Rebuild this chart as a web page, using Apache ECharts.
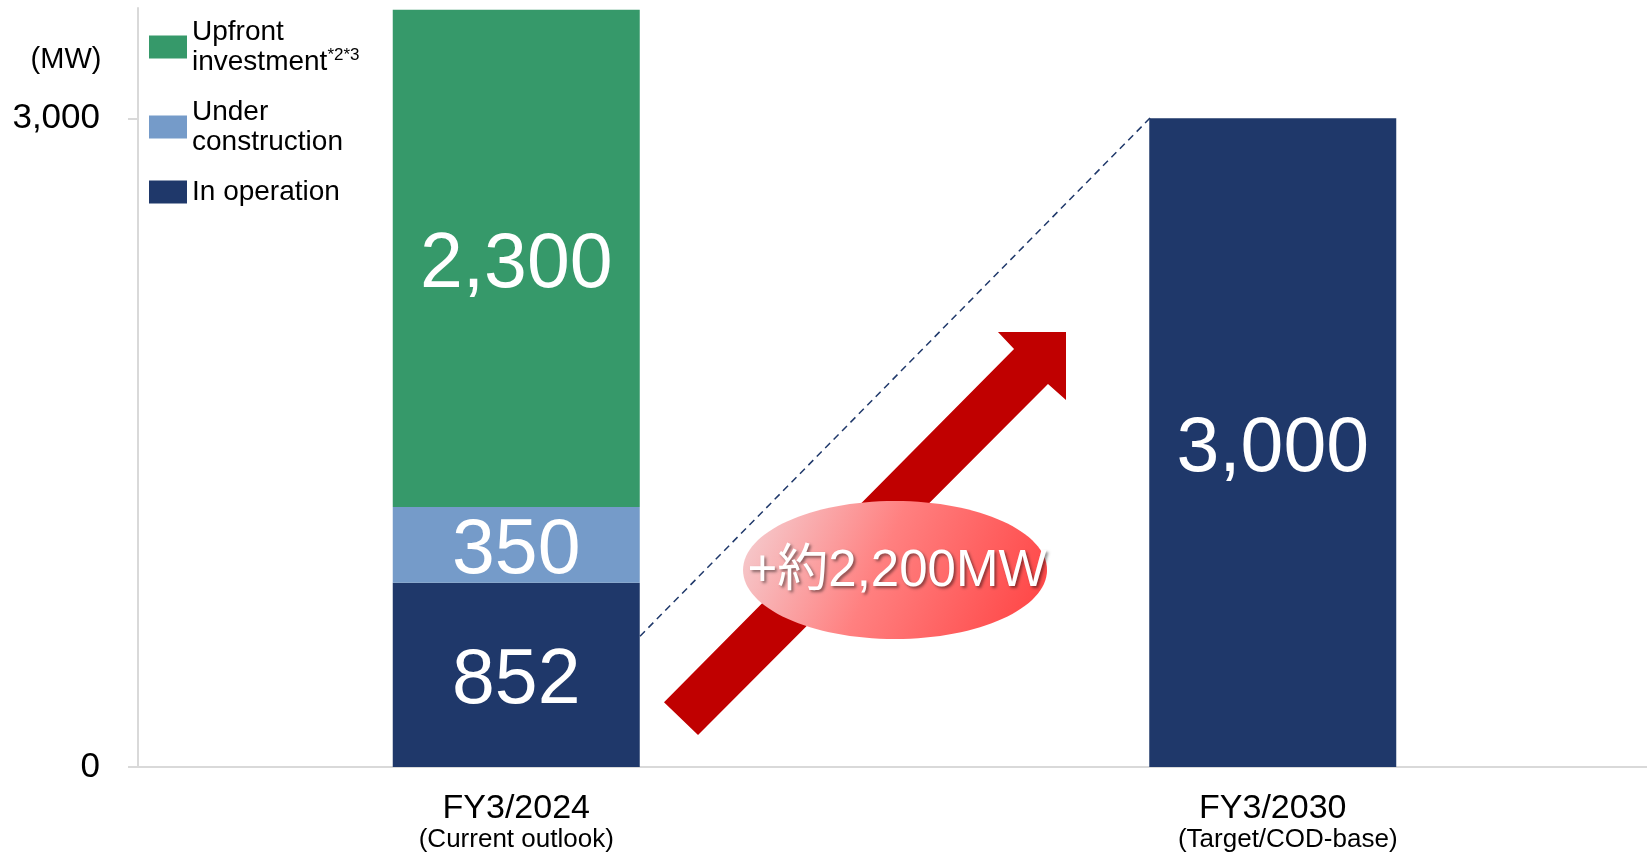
<!DOCTYPE html>
<html>
<head>
<meta charset="utf-8">
<script src="https://cdn.jsdelivr.net/npm/echarts@6/dist/echarts.min.js"></script>
<style>
  html, body { margin: 0; padding: 0; background: #fff; }
  #main { width: 1647px; height: 852px; }
</style>
</head>
<body>
<div id="main"></div>
<script>
var categories = ["FY3/2024", "FY3/2030"];
var categoryNotes = ["(Current outlook)", "(Target/COD-base)"];
var inOperation = [852, 3000];
var underConstruction = [350, "-"];
var upfrontInvestment = [2300, "-"];
var yTicks = [0, 3000];
var increaseText = "+約2,200MW";

var font = '"Liberation Sans", Arial, "Noto Sans CJK JP", sans-serif';
var navy = "#1F386A";

var myChart = echarts.init(document.getElementById("main"));

function fmt(v) {
  return Number(v).toLocaleString("en-US");
}

var legendText = {
  "Upfront investment": "{t|Upfront}\n{t|investment}{s|*2*3}",
  "Under construction": "{t|Under}\n{t|construction}",
  "In operation": "{t|In operation}",
};

var barLabel = {
  show: true,
  position: "inside",
  offset: [0, 7],
  color: "#fff",
  fontSize: 77,
  fontFamily: font,
  formatter: function (p) {
    return fmt(p.value);
  },
};

var option = {
  animation: false,
  textStyle: { fontFamily: font },
  grid: { left: 138, width: 1513, top: 8, bottom: 85, outerBoundsMode: "none" },
  legend: {
    orient: "vertical",
    left: 149,
    top: 18,
    padding: 0,
    itemWidth: 38,
    itemHeight: 23,
    itemGap: 22,
    icon: "rect",
    data: ["Upfront investment", "Under construction", "In operation"],
    formatter: function (name) {
      return legendText[name];
    },
    textStyle: {
      rich: {
        t: { fontSize: 28, lineHeight: 30, color: "#000", fontFamily: font },
        s: { fontSize: 17, lineHeight: 30, verticalAlign: "top", color: "#000", fontFamily: font },
      },
    },
  },
  xAxis: [
    {
      type: "category",
      data: categories,
      axisTick: { show: false },
      axisLine: { lineStyle: { color: "#D9D9D9", width: 2 } },
      axisLabel: {
        margin: 25,
        formatter: function (v, i) {
          return "{a|" + v + "}\n{" + (i === 1 ? "c" : "b") + "|" + categoryNotes[i] + "}";
        },
        rich: {
          a: { fontSize: 34, lineHeight: 34, color: "#000", fontFamily: font },
          b: { fontSize: 26, lineHeight: 28, color: "#000", fontFamily: font },
          c: { fontSize: 26, lineHeight: 28, color: "#000", fontFamily: font, padding: [0, 0, 0, 30] },
        },
      },
    },
    { type: "value", min: 0, max: 2, show: false },
  ],
  yAxis: {
    type: "value",
    min: 0,
    max: 3510,
    splitLine: { show: false },
    axisLine: { show: true, lineStyle: { color: "#D9D9D9", width: 2 } },
    axisTick: {
      show: true,
      length: 10,
      customValues: yTicks,
      lineStyle: { color: "#D9D9D9", width: 2 },
    },
    axisLabel: {
      margin: 38,
      fontSize: 35,
      color: "#000",
      fontFamily: font,
      customValues: yTicks,
      formatter: function (v) {
        return fmt(v);
      },
    },
  },
  series: [
    {
      name: "In operation",
      type: "bar",
      stack: "mw",
      barWidth: 247,
      itemStyle: { color: navy },
      label: barLabel,
      data: inOperation,
    },
    {
      name: "Under construction",
      type: "bar",
      stack: "mw",
      itemStyle: { color: "#759BC9" },
      label: barLabel,
      data: underConstruction,
    },
    {
      name: "Upfront investment",
      type: "bar",
      stack: "mw",
      itemStyle: { color: "#36996A" },
      label: barLabel,
      data: upfrontInvestment,
    },
    {
      // dashed guide from the current bar to the target bar
      type: "line",
      xAxisIndex: 1,
      yAxisIndex: 0,
      symbol: "none",
      silent: true,
      lineStyle: { color: navy, width: 1.5, type: [7, 5] },
      data: [
        [0.6636, 605],
        [1.3417, 3015],
      ],
      z: 5,
    },
  ],
};

myChart.setOption(option);

// arrow + ellipse callout, placed through the axes
function toPx(x, v) {
  return myChart.convertToPixel({ seriesIndex: 3 }, [x, v]);
}
var arrowPts = [
  [0.6953, 300],
  [1.158, 1933],
  [1.1368, 2012],
  [1.2267, 2012],
  [1.2267, 1697],
  [1.2029, 1771],
  [0.7403, 148],
].map(function (p) {
  return toPx(p[0], p[1]);
});
var center = toPx(1.0007, 911);

myChart.setOption({
  graphic: [
    {
      type: "text",
      x: 66,
      y: 60,
      style: {
        text: "(MW)",
        font: "29px " + font,
        fill: "#000",
        textAlign: "center",
        textVerticalAlign: "middle",
      },
    },
    {
      type: "polygon",
      z: 10,
      shape: { points: arrowPts },
      style: { fill: "#C00000" },
    },
    {
      type: "ellipse",
      z: 11,
      shape: { cx: center[0], cy: center[1], rx: 152, ry: 69 },
      style: {
        fill: new echarts.graphic.LinearGradient(0, 0, 1, 1, [
          { offset: 0, color: "#F4D3D6" },
          { offset: 0.45, color: "#FF8080" },
          { offset: 1, color: "#FF4040" },
        ]),
      },
    },
    {
      type: "text",
      z: 12,
      x: center[0] + 2,
      y: center[1] + 2,
      style: {
        text: increaseText,
        font: "51px " + font,
        fill: "#fff",
        textAlign: "center",
        textVerticalAlign: "middle",
        textShadowColor: "rgba(0,0,0,0.45)",
        textShadowBlur: 3,
        textShadowOffsetX: 2,
        textShadowOffsetY: 2,
      },
    },
  ],
});

window.addEventListener("resize", function () {
  myChart.resize();
});
</script>
</body>
</html>
